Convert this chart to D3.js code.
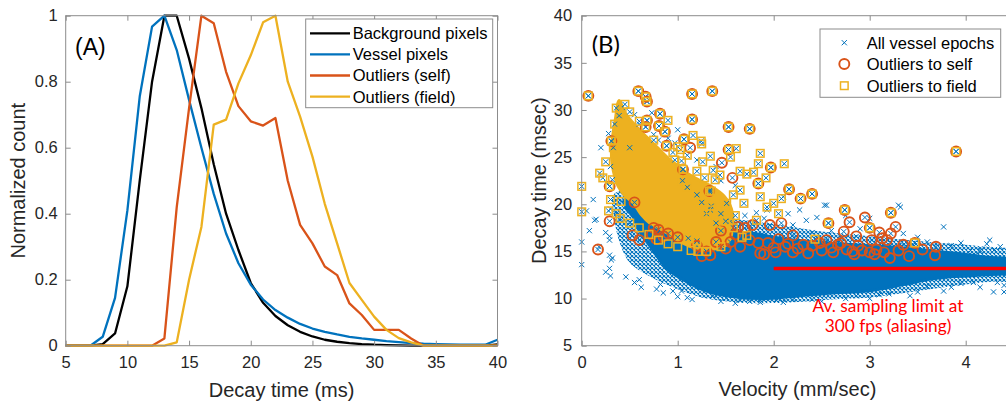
<!DOCTYPE html>
<html>
<head>
<meta charset="utf-8">
<script src="https://cdn.jsdelivr.net/npm/d3@7"></script>
<style>
  body { margin: 0; background: #fff; }
  svg { display: block; background: #fff; }
  .tick text { font-family: "Liberation Sans", Arial, sans-serif; font-size: 16.5px; fill: #262626; }
  .tick line { stroke: #8c8c8c; }
  .lbl { font-family: "Liberation Sans", Arial, sans-serif; font-size: 20px; fill: #262626; }
  .leg { font-family: "Liberation Sans", Arial, sans-serif; font-size: 16.5px; fill: #000; }
</style>
</head>
<body>
<svg id="chart" width="1006" height="402"></svg>
<script>
// ---- panel A : histograms of decay time ----
const decayBins = [5, 6, 7, 8, 9, 10, 11, 12, 13, 14, 15, 16, 17, 18, 19, 20, 21, 22,
  23, 24, 25, 26, 27, 28, 29, 30, 31, 32, 33, 34, 35, 36, 37, 38, 39, 40];
const backgroundPx = [0, 0, 0, 0.005, 0.037, 0.18, 0.5, 0.8, 1, 1, 0.87, 0.72, 0.55, 0.4,
  0.29, 0.19, 0.13, 0.09, 0.062, 0.042, 0.028, 0.018, 0.012, 0.008, 0.005, 0.003, 0.002,
  0.001, 0, 0, 0, 0, 0, 0, 0, 0.004];
const vesselPx = [0, 0, 0, 0.027, 0.145, 0.41, 0.755, 0.967, 1, 0.896, 0.745, 0.6, 0.46,
  0.34, 0.25, 0.185, 0.14, 0.108, 0.085, 0.066, 0.052, 0.042, 0.034, 0.027, 0.022, 0.018,
  0.014, 0.011, 0.008, 0.006, 0.005, 0.004, 0.003, 0.003, 0.003, 0.018];
const outliersSelf = [0, 0, 0, 0, 0, 0, 0, 0, 0.022, 0.42, 0.72, 1, 0.977, 0.83, 0.726,
  0.68, 0.667, 0.69, 0.5, 0.366, 0.31, 0.24, 0.214, 0.128, 0.093, 0.048, 0.048, 0.048,
  0.022, 0, 0, 0, 0, 0, 0, 0];
const outliersField = [0, 0, 0, 0, 0, 0, 0, 0, 0, 0.01, 0.2, 0.36, 0.67, 0.685, 0.795,
  0.88, 0.98, 1, 0.8, 0.694, 0.573, 0.43, 0.31, 0.19, 0.139, 0.088, 0.048, 0.023, 0.01,
  0, 0, 0, 0, 0, 0, 0];
const seriesA = [
  { name: "Background pixels", values: backgroundPx, color: "#000000" },
  { name: "Vessel pixels", values: vesselPx, color: "#0072BD" },
  { name: "Outliers (self)", values: outliersSelf, color: "#D95319" },
  { name: "Outliers (field)", values: outliersField, color: "#EDB120" },
];
const xTicksA = [5, 10, 15, 20, 25, 30, 35, 40];
const yTicksA = [0, 0.2, 0.4, 0.6, 0.8, 1];

// ---- panel B : decay time vs velocity ----
// outlines [velocity, decay] of the clouds too dense to read point by point
const blueFringe = [[0.33, 21.0], [0.5, 21.6], [0.7, 20.6], [1.0, 19.2], [1.3, 18.6],
  [1.6, 18.4], [2.0, 17.9], [2.5, 17.1], [3.0, 16.6], [3.5, 16.1], [4.0, 15.7], [4.3, 15.4],
  [4.5, 15.1], [4.5, 11.9], [4.3, 11.8], [4.0, 11.5], [3.7, 11.1], [3.3, 10.5], [3.0, 10.1],
  [2.6, 9.9], [2.2, 9.6], [1.9, 9.5], [1.6, 9.6], [1.3, 10.0], [1.1, 10.6], [0.9, 11.4],
  [0.7, 12.4], [0.5, 13.8], [0.4, 15.8], [0.34, 18.4]];
const blueCore = [[0.45, 20.5], [0.55, 20.5], [0.7, 19.5], [0.85, 18.5], [1.0, 17.8],
  [1.2, 17.3], [1.4, 17.0], [1.6, 17.0], [1.8, 16.9], [2.0, 16.5], [2.3, 16.1], [2.7, 15.8],
  [3.0, 15.6], [3.3, 15.4], [3.6, 15.1], [3.9, 14.8], [4.2, 14.4], [4.5, 14.0], [4.5, 12.7],
  [4.36, 12.6], [4.0, 12.4], [3.66, 12.1], [3.31, 11.4], [2.97, 10.8], [2.62, 10.6],
  [2.27, 10.3], [1.93, 10.0], [1.58, 10.2], [1.3, 10.8], [1.09, 11.8], [0.885, 13.2],
  [0.71, 15.6], [0.6, 17.2], [0.535, 18.7], [0.47, 19.5]];
const fieldCore = [[0.39, 31.0], [0.45, 29.7], [0.52, 28.8], [0.6, 27.9], [0.7, 26.9],
  [0.8, 25.9], [0.9, 24.9], [1.0, 24.1], [1.1, 23.3], [1.2, 22.7], [1.35, 21.9], [1.48, 20.9],
  [1.56, 19.5], [1.57, 17.3], [1.52, 15.8], [1.35, 15.2], [1.2, 15.3], [1.05, 15.9],
  [0.95, 16.5], [0.85, 17.2], [0.72, 17.9], [0.62, 18.9], [0.54, 20.1], [0.45, 20.9],
  [0.38, 21.9], [0.33, 23.5], [0.31, 25.0], [0.32, 27.0], [0.35, 29.0]];
// single vessel epochs outside the cores
const vesselEpochs = [[0.0, 16.0], [0.0, 13.6], [0.135, 18.3], [0.15, 18.4], [0.29, 16.2],
  [0.29, 14.6], [0.309, 14.1], [0.29, 13.2], [0.29, 16.6], [0.32, 14.3], [0.25, 17.0],
  [0.3, 19.5], [0.36, 20.4], [0.26, 22.3], [0.2, 26.0], [0.3, 24.0], [0.28, 27.5],
  [0.39, 29.4], [0.42, 30.3], [0.55, 29.5], [0.6, 28.5], [0.75, 27.4], [0.97, 26.5],
  [0.12, 20.5], [0.46, 12.3], [0.6, 12.0], [0.82, 11.5], [0.95, 10.8], [1.04, 10.8],
  [1.1, 10.1], [1.37, 10.3], [1.51, 10.1], [1.86, 9.6], [2.03, 9.8], [2.86, 10.3],
  [3.42, 10.3], [3.77, 10.8], [4.29, 10.7], [4.08, 11.7], [1.65, 9.8], [2.4, 9.9],
  [3.1, 10.4], [3.6, 11.3], [3.95, 11.6], [4.33, 11.7], [2.2, 9.9], [1.75, 9.7],
  [2.53, 19.9], [3.3, 19.9], [3.32, 19.7], [3.77, 17.6], [4.15, 15.1], [4.22, 15.8],
  [4.05, 15.1], [4.3, 15.2], [4.36, 15.5], [3.35, 16.9], [3.0, 18.5], [3.5, 16.5], [3.6, 16.0],
  [3.85, 15.6], [2.55, 19.9], [2.27, 19.4], [2.34, 18.3], [1.93, 19.4], [1.82, 19.1],
  [2.1, 20.8], [2.45, 18.6], [2.6, 17.2], [2.9, 17.4], [2.2, 17.8], [2.4, 17.0], [1.9, 18.5],
  [2.7, 16.4], [3.15, 15.9], [3.4, 15.7], [1.7, 18.8], [1.55, 18.2], [2.15, 19.0],
  [2.75, 18.8], [4.1, 14.6], [0.5, 26.0], [0.9, 27.0], [0.73, 29.7], [0.8, 26.8], [1.0, 27.9],
  [1.2, 24.7], [1.4, 24.0], [1.6, 22.0], [1.45, 22.5], [0.18, 15.5], [0.05, 19.3],
  [0.08, 17.2], [0.25, 12.8], [0.3, 12.4], [0.55, 11.7], [0.62, 11.2], [0.78, 11.0],
  [0.85, 10.6], [1.0, 10.2], [1.15, 9.9], [1.45, 9.7], [1.6, 9.5], [2.1, 9.6], [2.5, 9.7],
  [2.75, 10.0], [3.0, 10.0], [3.2, 10.5], [3.5, 10.7], [3.85, 11.2], [4.15, 11.2],
  [4.4, 11.4], [4.4, 10.7], [3.95, 15.9], [4.25, 16.2]];
const selfOutliers = [[0.069, 31.5], [0.59, 32.0], [0.666, 31.4], [0.68, 30.9], [1.15, 31.7],
  [1.36, 32.0], [0.816, 29.6], [0.68, 28.9], [0.666, 28.2], [0.805, 28.3], [0.867, 27.7],
  [0.885, 26.2], [1.15, 29.0], [1.066, 26.9], [1.13, 26.0], [1.53, 28.2], [1.75, 28.0],
  [1.53, 25.8], [1.46, 24.4], [1.57, 22.8], [1.97, 23.9], [1.84, 22.2], [2.16, 21.6],
  [2.4, 21.1], [2.28, 20.6], [3.9, 25.6], [0.309, 26.7], [0.291, 21.9], [0.291, 18.2],
  [0.17, 15.2], [0.53, 16.7], [0.6, 16.2], [1.055, 23.7], [1.33, 21.4], [1.3, 15.0],
  [0.55, 20.2], [2.57, 18.0], [2.73, 17.1], [2.2, 16.7], [1.63, 17.6], [1.7, 17.5],
  [1.78, 17.8], [1.96, 17.8], [2.08, 18.0], [2.12, 15.5], [1.84, 15.9], [1.86, 14.8],
  [1.94, 15.9], [2.31, 15.7], [2.36, 14.8], [2.48, 15.9], [2.67, 15.7], [2.76, 15.2],
  [1.34, 14.6], [3.22, 19.1], [3.0, 17.5], [3.27, 17.6], [3.22, 16.9], [3.18, 16.2],
  [3.13, 16.4], [2.86, 16.6], [3.02, 16.2], [3.47, 15.9], [3.69, 15.5], [3.68, 14.6],
  [3.41, 14.5], [3.21, 14.3], [2.82, 15.0], [2.92, 15.1], [3.0, 14.9], [3.07, 15.2],
  [2.88, 15.6], [2.79, 18.1], [2.74, 19.4], [1.45, 17.2], [1.5, 15.3], [1.6, 16.8],
  [1.0, 16.5], [0.9, 16.9], [0.8, 17.3], [0.75, 17.5], [1.2, 15.6], [2.0, 15.4], [2.05, 16.3],
  [2.5, 15.1], [2.6, 15.4], [2.2, 14.9], [2.95, 18.6], [3.1, 17.0], [1.55, 16.0],
  [1.65, 15.5], [1.75, 16.2], [1.9, 14.7], [2.02, 14.9], [2.15, 15.8], [2.25, 15.3],
  [2.4, 15.6], [2.55, 16.2], [2.62, 14.9], [2.7, 15.9], [2.84, 14.7], [3.05, 14.7],
  [3.15, 14.9], [3.3, 15.1], [3.35, 15.7], [3.55, 15.2], [1.25, 14.5], [1.4, 16.0],
  [0.73, 16.8], [0.78, 16.3], [0.85, 16.6]];
const fieldOutliers = [[0.0, 21.9], [0.0, 19.2], [0.187, 23.3], [0.32, 22.6], [0.343, 28.5],
  [0.41, 20.3], [0.899, 28.9], [1.16, 27.3], [1.245, 26.7], [1.0, 26.1], [0.97, 24.7],
  [1.04, 24.6], [1.26, 24.5], [1.37, 23.6], [1.39, 22.6], [1.35, 19.8], [1.11, 16.4],
  [1.2, 16.1], [1.84, 24.3], [2.11, 24.3], [1.92, 22.8], [1.86, 25.4], [1.61, 25.9],
  [1.25, 26.4], [1.34, 25.1], [1.55, 25.0], [1.65, 23.5], [1.72, 23.2], [1.79, 23.4],
  [1.03, 25.8], [1.44, 23.1], [1.35, 21.4], [2.08, 20.6], [1.72, 16.7], [2.43, 16.3],
  [1.58, 21.0], [1.65, 21.5], [1.86, 20.8], [2.0, 20.1], [1.93, 19.7], [1.69, 20.1],
  [1.51, 20.1], [1.34, 19.4], [1.82, 18.3], [2.05, 19.0], [1.67, 16.5], [1.14, 15.1],
  [1.21, 15.0], [0.069, 31.5], [0.59, 32.0], [0.666, 31.4], [0.68, 30.9], [1.15, 31.7],
  [1.36, 32.0], [0.816, 29.6], [0.68, 28.9], [0.666, 28.2], [0.805, 28.3], [0.867, 27.7],
  [0.885, 26.2], [1.15, 29.0], [1.066, 26.9], [1.53, 28.2], [1.75, 28.0], [1.53, 25.8],
  [1.97, 23.9], [1.84, 22.2], [2.16, 21.6], [2.4, 21.1], [2.28, 20.6], [3.9, 25.6],
  [0.291, 21.9], [0.309, 26.7], [1.055, 23.7], [1.33, 21.4], [3.22, 19.1], [3.0, 17.5],
  [3.47, 15.9], [2.74, 19.4], [2.57, 18.0], [1.05, 22.5], [1.1, 21.8], [1.2, 21.0],
  [1.25, 20.2], [1.3, 19.0], [1.45, 19.0], [1.5, 18.2], [1.58, 17.5], [1.6, 18.8],
  [1.4, 18.0], [1.1, 25.2], [1.2, 23.5], [1.28, 22.8], [0.95, 25.5], [0.75, 26.8],
  [0.6, 28.8], [0.5, 29.8], [0.45, 30.6], [0.3, 20.5], [0.28, 19.3], [0.36, 19.0],
  [0.25, 24.5], [0.22, 22.8], [0.4, 18.5], [0.5, 18.0], [0.6, 17.5], [0.7, 16.8], [0.8, 16.2],
  [0.9, 15.8], [1.0, 15.5], [1.3, 15.0], [1.45, 15.5], [0.36, 30.2], [0.33, 26.0]];
const samplingLimit = { from: 2, to: 4.5, decay: 13.2 };
const xTicksB = [0, 1, 2, 3, 4];
const yTicksB = [5, 10, 15, 20, 25, 30, 35, 40];

const BLUE = "#0072BD", ORANGE = "#D95319", YELLOW = "#EDB120";
const FRAME = "#8c8c8c";
const svg = d3.select("#chart");
const defs = svg.append("defs");

// ================= panel A =================
const xA = d3.scaleLinear().domain([5, 40]).range([65.7, 497.5]);
const yA = d3.scaleLinear().domain([0, 1]).range([345.7, 15.7]);

const gA = svg.append("g");
const line = d3.line().x((d, i) => xA(decayBins[i])).y((d) => yA(d));

gA.selectAll("path.series")
  .data(seriesA)
  .enter()
  .append("path")
  .attr("class", "series")
  .attr("d", (s) => line(s.values))
  .attr("fill", "none")
  .attr("stroke", (s) => s.color)
  .attr("stroke-width", 2.3)
  .attr("stroke-linejoin", "round");

gA.append("rect")
  .attr("x", xA.range()[0]).attr("y", yA.range()[1])
  .attr("width", xA.range()[1] - xA.range()[0])
  .attr("height", yA.range()[0] - yA.range()[1])
  .attr("fill", "none").attr("stroke", FRAME);

const fmtA = (d) => (d === 0 || d === 1 ? String(d) : d.toFixed(1));
gA.append("g").attr("transform", `translate(0,${yA.range()[0]})`)
  .call(d3.axisBottom(xA).tickValues(xTicksA).tickSize(-5).tickPadding(11))
  .selectAll(".domain").remove();
gA.append("g").attr("transform", `translate(0,${yA.range()[1]})`)
  .call(d3.axisTop(xA).tickValues(xTicksA).tickSize(-5).tickFormat(""))
  .selectAll(".domain").remove();
gA.append("g").attr("transform", `translate(${xA.range()[0]},0)`)
  .call(d3.axisLeft(yA).tickValues(yTicksA).tickSize(-5).tickPadding(8).tickFormat(fmtA))
  .selectAll(".domain").remove();
gA.append("g").attr("transform", `translate(${xA.range()[1]},0)`)
  .call(d3.axisRight(yA).tickValues(yTicksA).tickSize(-5).tickFormat(""))
  .selectAll(".domain").remove();

gA.append("text").attr("class", "lbl")
  .attr("x", (xA.range()[0] + xA.range()[1]) / 2).attr("y", 397)
  .attr("text-anchor", "middle").text("Decay time (ms)");
gA.append("text").attr("class", "lbl")
  .attr("transform", `translate(25,${(yA.range()[0] + yA.range()[1]) / 2}) rotate(-90)`)
  .attr("text-anchor", "middle").text("Normalized count");
gA.append("text")
  .attr("x", 75).attr("y", 55)
  .style("font-family", "'Liberation Sans', Arial, sans-serif")
  .style("font-size", "23px").attr("fill", "#000").text("(A)");

// legend A
const legA = gA.append("g");
legA.append("rect").attr("x", 305.7).attr("y", 19).attr("width", 187).attr("height", 88.7)
  .attr("fill", "#fff").attr("stroke", FRAME);
const legRowsA = legA.selectAll("g.row").data(seriesA).enter().append("g")
  .attr("transform", (d, i) => `translate(0,${33.3 + i * 21.1})`);
legRowsA.append("line").attr("x1", 310).attr("x2", 350)
  .attr("stroke", (d) => d.color).attr("stroke-width", 2.3);
legRowsA.append("text").attr("class", "leg").attr("x", 352.7).attr("dy", "0.36em")
  .text((d) => d.name);

// ================= panel B =================
const xB = d3.scaleLinear().domain([0, 4.5]).range([581.7, 581.7 + 4.5 * 96]);
const yB = d3.scaleLinear().domain([5, 40]).range([345.7, 15.7]);
const gB = svg.append("g");

defs.append("clipPath").attr("id", "clipB")
  .append("rect").attr("x", xB.range()[0]).attr("y", yB.range()[1])
  .attr("width", xB.range()[1] - xB.range()[0]).attr("height", yB.range()[0] - yB.range()[1]);

// texture of overlapping x markers for the fringe of the cloud
const crossPath = (s) => `M${-s},${-s}L${s},${s}M${-s},${s}L${s},${-s}`;
const pat = defs.append("pattern").attr("id", "xfill")
  .attr("patternUnits", "userSpaceOnUse").attr("width", 4).attr("height", 4);
pat.append("path").attr("transform", "translate(2,2)").attr("d", crossPath(2.2))
  .attr("stroke", BLUE).attr("stroke-width", 1.1);
pat.append("path").attr("d", crossPath(2.2))
  .attr("stroke", BLUE).attr("stroke-width", 0.9).attr("opacity", 0.7);

const cloud = d3.line().x((d) => xB(d[0])).y((d) => yB(d[1])).curve(d3.curveCatmullRomClosed);
const plotB = gB.append("g").attr("clip-path", "url(#clipB)");

plotB.append("path").attr("d", cloud(blueFringe)).attr("fill", "url(#xfill)");
plotB.append("path").attr("d", cloud(blueCore)).attr("fill", BLUE)
  .attr("stroke", BLUE).attr("stroke-width", 3);

const allEpochs = vesselEpochs.concat(selfOutliers, fieldOutliers);
gB.append("g").selectAll("path")
  .data(allEpochs).enter().append("path")
  .attr("transform", (d) => `translate(${xB(d[0])},${yB(d[1])})`)
  .attr("d", crossPath(2.6))
  .attr("stroke", BLUE).attr("stroke-width", 1).attr("fill", "none");

gB.append("g").selectAll("circle")
  .data(selfOutliers).enter().append("circle")
  .attr("cx", (d) => xB(d[0])).attr("cy", (d) => yB(d[1])).attr("r", 5)
  .attr("fill", "none").attr("stroke", ORANGE).attr("stroke-width", 1.9);

plotB.append("path").attr("d", cloud(fieldCore)).attr("fill", YELLOW)
  .attr("stroke", YELLOW).attr("stroke-width", 3);

gB.append("g").selectAll("rect")
  .data(fieldOutliers).enter().append("rect")
  .attr("x", (d) => xB(d[0]) - 3.8).attr("y", (d) => yB(d[1]) - 3.8)
  .attr("width", 7.6).attr("height", 7.6)
  .attr("fill", "none").attr("stroke", YELLOW).attr("stroke-width", 1.5);

// sampling limit
gB.append("line")
  .attr("x1", xB(samplingLimit.from)).attr("x2", xB(samplingLimit.to))
  .attr("y1", yB(samplingLimit.decay)).attr("y2", yB(samplingLimit.decay))
  .attr("stroke", "#ff0000").attr("stroke-width", 3.5);
const redText = gB.append("text")
  .attr("text-anchor", "middle").attr("fill", "#ff0000")
  .style("font-family", "Lato, 'Open Sans', sans-serif").style("font-size", "17.3px");
redText.append("tspan").attr("x", 888).attr("y", 311.5).text("Av. sampling limit at");
redText.append("tspan").attr("x", 888).attr("y", 331.5).text("300 fps (aliasing)");

// frame and axes
gB.append("rect")
  .attr("x", xB.range()[0]).attr("y", yB.range()[1])
  .attr("width", xB.range()[1] - xB.range()[0])
  .attr("height", yB.range()[0] - yB.range()[1])
  .attr("fill", "none").attr("stroke", FRAME);
gB.append("g").attr("transform", `translate(0,${yB.range()[0]})`)
  .call(d3.axisBottom(xB).tickValues(xTicksB).tickSize(-5).tickPadding(11).tickFormat(d3.format("d")))
  .selectAll(".domain").remove();
gB.append("g").attr("transform", `translate(0,${yB.range()[1]})`)
  .call(d3.axisTop(xB).tickValues(xTicksB).tickSize(-5).tickFormat(""))
  .selectAll(".domain").remove();
gB.append("g").attr("transform", `translate(${xB.range()[0]},0)`)
  .call(d3.axisLeft(yB).tickValues(yTicksB).tickSize(-5).tickPadding(9.5))
  .selectAll(".domain").remove();

gB.append("text").attr("class", "lbl")
  .attr("x", 797.5).attr("y", 396)
  .attr("text-anchor", "middle").text("Velocity (mm/sec)");
gB.append("text").attr("class", "lbl")
  .attr("transform", `translate(546,${(yB.range()[0] + yB.range()[1]) / 2}) rotate(-90)`)
  .attr("text-anchor", "middle").text("Decay time (msec)");
gB.append("text")
  .attr("x", 591.7).attr("y", 53)
  .style("font-family", "Lato, 'Open Sans', sans-serif")
  .style("font-size", "24px").attr("fill", "#000").text("(B)");

// legend B
const legB = gB.append("g");
legB.append("rect").attr("x", 820).attr("y", 29).attr("width", 180.7).attr("height", 68.3)
  .attr("fill", "#fff").attr("stroke", FRAME);
const legItemsB = ["All vessel epochs", "Outliers to self", "Outliers to field"];
legB.append("path").attr("transform", "translate(844.3,42.7)").attr("d", crossPath(2.6))
  .attr("stroke", BLUE).attr("stroke-width", 1).attr("fill", "none");
legB.append("circle").attr("cx", 844.3).attr("cy", 64).attr("r", 5)
  .attr("fill", "none").attr("stroke", ORANGE).attr("stroke-width", 1.9);
legB.append("rect").attr("x", 844.3 - 3.8).attr("y", 85.7 - 3.8).attr("width", 7.6).attr("height", 7.6)
  .attr("fill", "none").attr("stroke", YELLOW).attr("stroke-width", 1.5);
legB.selectAll("text.leg").data(legItemsB).enter().append("text")
  .attr("class", "leg").attr("x", 866.7)
  .attr("y", (d, i) => [42.7, 64, 85.7][i]).attr("dy", "0.36em")
  .text((d) => d);
</script>
</body>
</html>
